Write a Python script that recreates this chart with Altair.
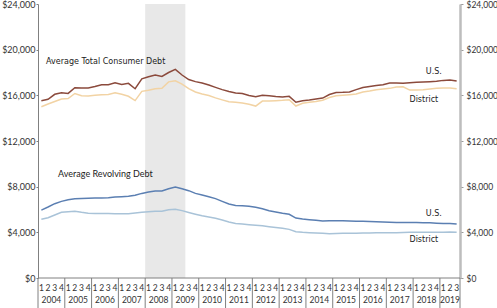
import altair as alt
import pandas as pd

quarters = list(range(63))
q_labels = ["1", "2", "3", "4"] * 15 + ["1", "2", "3"]
years = [str(y) for y in range(2004, 2020)]
year_start = [i * 4 for i in range(16)]
year_end = [min(i * 4 + 4, 63) for i in range(16)]

us_total = [15530, 15650, 16090, 16230, 16170, 16660, 16650, 16640, 16770, 16930,
            16930, 17100, 16960, 17050, 16580, 17450, 17630, 17780, 17660, 18000,
            18270, 17780, 17380, 17200, 17080, 16900, 16700, 16500, 16330, 16200,
            16160, 15980, 15880, 16000, 15970, 15900, 15850, 15910, 15390, 15530,
            15590, 15670, 15760, 16070, 16240, 16260, 16300, 16500, 16680, 16770,
            16860, 16930, 17080, 17080, 17050, 17100, 17140, 17160, 17190, 17230,
            17310, 17340, 17250]
district_total = [15000, 15240, 15460, 15670, 15720, 16160, 15960, 15940, 16000, 16050,
                  16070, 16230, 16090, 15920, 15540, 16350, 16440, 16580, 16610, 17180,
                  17280, 16990, 16580, 16290, 16110, 15980, 15780, 15600, 15430, 15390,
                  15320, 15210, 15060, 15500, 15510, 15530, 15560, 15610, 15060, 15300,
                  15390, 15470, 15570, 15810, 15960, 16000, 16050, 16110, 16290, 16370,
                  16490, 16550, 16610, 16730, 16750, 16460, 16460, 16490, 16550, 16610,
                  16650, 16650, 16580]
us_revolving = [5950, 6220, 6510, 6710, 6860, 6950, 6960, 6980, 7000, 7000,
                7020, 7090, 7120, 7160, 7240, 7410, 7530, 7620, 7620, 7820,
                7970, 7820, 7650, 7410, 7270, 7120, 6950, 6710, 6480, 6360,
                6330, 6280, 6190, 6070, 5890, 5780, 5670, 5580, 5250, 5170,
                5110, 5050, 5000, 5020, 5020, 5020, 4990, 4960, 4960, 4940,
                4930, 4900, 4880, 4870, 4870, 4870, 4860, 4850, 4830, 4800,
                4780, 4770, 4730]
district_revolving = [5140, 5280, 5520, 5750, 5810, 5840, 5750, 5680, 5660, 5660,
                      5650, 5630, 5620, 5620, 5690, 5760, 5810, 5840, 5840, 5980,
                      6030, 5900, 5740, 5590, 5450, 5340, 5230, 5080, 4900, 4770,
                      4730, 4670, 4620, 4570, 4490, 4420, 4350, 4260, 4050, 4000,
                      3970, 3940, 3910, 3880, 3900, 3910, 3910, 3930, 3940, 3940,
                      3960, 3970, 3970, 3970, 3980, 4000, 4000, 4000, 4000, 4000,
                      4010, 4030, 4010]

recession_start = [16]
recession_end = [22]

note_text = ["Average Total Consumer Debt", "Average Revolving Debt"]
note_x = [1.2, 3.0]
note_y = [18900, 9080]

series_text = ["U.S.", "District", "U.S.", "District"]
series_x = [59.1, 57.6, 59.1, 57.6]
series_y = [18040, 15590, 5600, 3330]

FONT = "Lato"
W, H = 422, 274

xs = alt.Scale(domain=[0, 63], nice=False, zero=False)
ys = alt.Scale(domain=[0, 24000], nice=False)
ticks = [0, 4000, 8000, 12000, 16000, 20000, 24000]

qx = [q + 0.5 for q in quarters]

def series_df(vals):
    return pd.DataFrame({"x": qx, "v": vals})

rec = alt.Chart(pd.DataFrame({"a": recession_start, "b": recession_end})).mark_rect(
    color="#e8e8e8").encode(
    x=alt.X("a:Q", scale=xs, axis=None), x2="b:Q",
    y=alt.value(0), y2=alt.value(H))

left_axis = alt.Axis(orient="left", values=ticks, format="$,.0f", grid=False,
                     domainColor="#808080", domainWidth=1, tickColor="#808080",
                     tickSize=2, labelPadding=1, labelFont=FONT, labelFontSize=9,
                     labelColor="#333333", title=None)
right_axis = alt.Axis(orient="right", values=ticks, format="$,.0f", grid=False,
                      domainColor="#bdbdbd", domainWidth=2.5, tickColor="#9a9a9a",
                      tickSize=3, labelPadding=3, labelFont=FONT, labelFontSize=8.5,
                      labelColor="#333333", title=None)

def line(vals, color, width, axis):
    return alt.Chart(series_df(vals)).mark_line(color=color, strokeWidth=width).encode(
        x=alt.X("x:Q", scale=xs, axis=None),
        y=alt.Y("v:Q", scale=ys, axis=axis))

l_ust = line(us_total, "#8b4a3c", 1.5, left_axis)
l_dt = line(district_total, "#f2d3a4", 1.5, right_axis)
l_ur = line(us_revolving, "#5b7fb2", 1.5, None)
l_dr = line(district_revolving, "#a9c3d8", 1.5, None)

def note(i, font, size):
    df = pd.DataFrame({"t": [note_text[i]], "x": [note_x[i]], "y": [note_y[i]]})
    return alt.Chart(df).mark_text(
        align="left", baseline="middle", font=font, fontSize=size, color="#222222").encode(
        x=alt.X("x:Q", scale=xs, axis=None), y=alt.Y("y:Q", scale=ys, axis=None), text="t:N")

note1 = note(0, "DejaVu Sans", 8)
note2 = note(1, FONT, 9)

stext = alt.Chart(pd.DataFrame({"t": series_text, "x": series_x, "y": series_y})).mark_text(
    align="center", baseline="middle", font="DejaVu Sans", fontSize=8, color="#222222").encode(
    x=alt.X("x:Q", scale=xs, axis=None), y=alt.Y("y:Q", scale=ys, axis=None), text="t:N")

baseline = alt.Chart(pd.DataFrame({"a": [0], "b": [63]})).mark_rule(
    color="#808080", strokeWidth=1).encode(
    x=alt.X("a:Q", scale=xs, axis=None), x2="b:Q", y=alt.value(H))

seps = alt.Chart(pd.DataFrame({"x": year_start + [63]})).mark_rule(
    color="#808080", strokeWidth=1).encode(
    x=alt.X("x:Q", scale=xs, axis=None), y=alt.value(H), y2=alt.value(H + 30))

qtext = alt.Chart(pd.DataFrame({"x": qx, "t": q_labels})).mark_text(
    align="center", baseline="middle", font=FONT, fontSize=8.5, color="#333333").encode(
    x=alt.X("x:Q", scale=xs, axis=None), y=alt.value(H + 10), text="t:N")

ytext = alt.Chart(pd.DataFrame({
    "x": [(s + e) / 2 for s, e in zip(year_start, year_end)], "t": years})).mark_text(
    align="center", baseline="middle", font=FONT, fontSize=8.5, color="#333333").encode(
    x=alt.X("x:Q", scale=xs, axis=None), y=alt.value(H + 22), text="t:N")

chart = alt.layer(rec, l_ust, l_dt, l_ur, l_dr, note1, note2, stext, baseline, seps, qtext, ytext
).resolve_axis(y="independent").properties(
    width=W, height=H,
    autosize=alt.AutoSizeParams(type="none"),
    padding={"left": 38, "top": 4, "right": 37, "bottom": 30},
    background="white",
).configure_view(stroke=None)

chart.save("out.html", embed_options={"renderer": "svg", "actions": False})
